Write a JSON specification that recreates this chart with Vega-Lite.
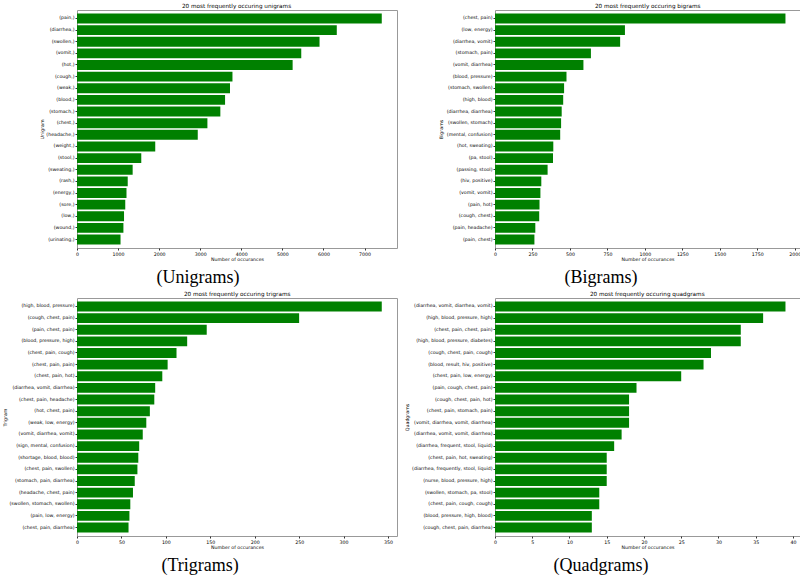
{
  "$schema": "https://vega.github.io/schema/vega-lite/v6.json",
  "padding": {"left": 1, "top": 2, "right": 0, "bottom": 0},
  "background": "white",
  "datasets": {
    "unigrams": [
      {"ngram": "(pain,)", "count": 7420, "rank": 1},
      {"ngram": "(diarrhea,)", "count": 6325, "rank": 2},
      {"ngram": "(swollen,)", "count": 5905, "rank": 3},
      {"ngram": "(vomit,)", "count": 5460, "rank": 4},
      {"ngram": "(hot,)", "count": 5250, "rank": 5},
      {"ngram": "(cough,)", "count": 3785, "rank": 6},
      {"ngram": "(weak,)", "count": 3725, "rank": 7},
      {"ngram": "(blood,)", "count": 3605, "rank": 8},
      {"ngram": "(stomach,)", "count": 3490, "rank": 9},
      {"ngram": "(chest,)", "count": 3175, "rank": 10},
      {"ngram": "(headache,)", "count": 2940, "rank": 11},
      {"ngram": "(weight,)", "count": 1905, "rank": 12},
      {"ngram": "(stool,)", "count": 1565, "rank": 13},
      {"ngram": "(sweating,)", "count": 1355, "rank": 14},
      {"ngram": "(rash,)", "count": 1235, "rank": 15},
      {"ngram": "(energy,)", "count": 1205, "rank": 16},
      {"ngram": "(sore,)", "count": 1175, "rank": 17},
      {"ngram": "(low,)", "count": 1145, "rank": 18},
      {"ngram": "(wound,)", "count": 1130, "rank": 19},
      {"ngram": "(urinating,)", "count": 1060, "rank": 20}
    ],
    "bigrams": [
      {"ngram": "(chest, pain)", "count": 1938, "rank": 1},
      {"ngram": "(low, energy)", "count": 867, "rank": 2},
      {"ngram": "(diarrhea, vomit)", "count": 835, "rank": 3},
      {"ngram": "(stomach, pain)", "count": 640, "rank": 4},
      {"ngram": "(vomit, diarrhea)", "count": 590, "rank": 5},
      {"ngram": "(blood, pressure)", "count": 477, "rank": 6},
      {"ngram": "(stomach, swollen)", "count": 461, "rank": 7},
      {"ngram": "(high, blood)", "count": 455, "rank": 8},
      {"ngram": "(diarrhea, diarrhea)", "count": 445, "rank": 9},
      {"ngram": "(swollen, stomach)", "count": 441, "rank": 10},
      {"ngram": "(mental, confusion)", "count": 435, "rank": 11},
      {"ngram": "(hot, sweating)", "count": 389, "rank": 12},
      {"ngram": "(pa, stool)", "count": 387, "rank": 13},
      {"ngram": "(passing, stool)", "count": 351, "rank": 14},
      {"ngram": "(hiv, positive)", "count": 309, "rank": 15},
      {"ngram": "(vomit, vomit)", "count": 303, "rank": 16},
      {"ngram": "(pain, hot)", "count": 297, "rank": 17},
      {"ngram": "(cough, chest)", "count": 295, "rank": 18},
      {"ngram": "(pain, headache)", "count": 269, "rank": 19},
      {"ngram": "(pain, chest)", "count": 263, "rank": 20}
    ],
    "trigrams": [
      {"ngram": "(high, blood, pressure)", "count": 343, "rank": 1},
      {"ngram": "(cough, chest, pain)", "count": 250, "rank": 2},
      {"ngram": "(pain, chest, pain)", "count": 146, "rank": 3},
      {"ngram": "(blood, pressure, high)", "count": 124, "rank": 4},
      {"ngram": "(chest, pain, cough)", "count": 112, "rank": 5},
      {"ngram": "(chest, pain, pain)", "count": 102, "rank": 6},
      {"ngram": "(chest, pain, hot)", "count": 96, "rank": 7},
      {"ngram": "(diarrhea, vomit, diarrhea)", "count": 88, "rank": 8},
      {"ngram": "(chest, pain, headache)", "count": 87, "rank": 9},
      {"ngram": "(hot, chest, pain)", "count": 82, "rank": 10},
      {"ngram": "(weak, low, energy)", "count": 78, "rank": 11},
      {"ngram": "(vomit, diarrhea, vomit)", "count": 74, "rank": 12},
      {"ngram": "(sign, mental, confusion)", "count": 70, "rank": 13},
      {"ngram": "(shortage, blood, blood)", "count": 69, "rank": 14},
      {"ngram": "(chest, pain, swollen)", "count": 68, "rank": 15},
      {"ngram": "(stomach, pain, diarrhea)", "count": 65, "rank": 16},
      {"ngram": "(headache, chest, pain)", "count": 63, "rank": 17},
      {"ngram": "(swollen, stomach, swollen)", "count": 60, "rank": 18},
      {"ngram": "(pain, low, energy)", "count": 59, "rank": 19},
      {"ngram": "(chest, pain, diarrhea)", "count": 58, "rank": 20}
    ],
    "quadgrams": [
      {"ngram": "(diarrhea, vomit, diarrhea, vomit)", "count": 39, "rank": 1},
      {"ngram": "(high, blood, pressure, high)", "count": 36, "rank": 2},
      {"ngram": "(chest, pain, chest, pain)", "count": 33, "rank": 3},
      {"ngram": "(high, blood, pressure, diabetes)", "count": 33, "rank": 4},
      {"ngram": "(cough, chest, pain, cough)", "count": 29, "rank": 5},
      {"ngram": "(blood, result, hiv, positive)", "count": 28, "rank": 6},
      {"ngram": "(chest, pain, low, energy)", "count": 25, "rank": 7},
      {"ngram": "(pain, cough, chest, pain)", "count": 19, "rank": 8},
      {"ngram": "(cough, chest, pain, hot)", "count": 18, "rank": 9},
      {"ngram": "(chest, pain, stomach, pain)", "count": 18, "rank": 10},
      {"ngram": "(vomit, diarrhea, vomit, diarrhea)", "count": 18, "rank": 11},
      {"ngram": "(diarrhea, vomit, vomit, diarrhea)", "count": 17, "rank": 12},
      {"ngram": "(diarrhea, frequent, stool, liquid)", "count": 16, "rank": 13},
      {"ngram": "(chest, pain, hot, sweating)", "count": 15, "rank": 14},
      {"ngram": "(diarrhea, frequently, stool, liquid)", "count": 15, "rank": 15},
      {"ngram": "(nurse, blood, pressure, high)", "count": 15, "rank": 16},
      {"ngram": "(swollen, stomach, pa, stool)", "count": 14, "rank": 17},
      {"ngram": "(chest, pain, cough, cough)", "count": 14, "rank": 18},
      {"ngram": "(blood, pressure, high, blood)", "count": 13, "rank": 19},
      {"ngram": "(cough, chest, pain, diarrhea)", "count": 13, "rank": 20}
    ]
  },
  "spacing": 5,
  "hconcat": [
    {
      "align": "none",
      "spacing": 3,
      "vconcat": [
        {
          "title": {"text": "(Unigrams)", "orient": "bottom", "anchor": "start", "frame": "bounds", "dx": 118, "font": "Liberation Serif", "fontSize": 18, "fontWeight": "normal", "offset": 7},
          "vconcat": [
            {
              "width": 320, "height": 238,
              "data": {"name": "unigrams"},
              "title": {"text": "20 most frequently occuring unigrams", "anchor": "start", "frame": "group", "dx": 105},
              "mark": {"type": "bar", "color": "#008000"},
              "encoding": {
                "y": {"field": "ngram", "type": "nominal", "sort": {"field": "rank", "op": "min", "order": "ascending"},
                      "scale": {"paddingInner": 0.15, "paddingOuter": 0.3},
                      "axis": {"title": "Unigram", "minExtent": 30, "maxExtent": 30}},
                "x": {"field": "count", "type": "quantitative", "scale": {"domain": [0, 7791], "nice": false},
                      "axis": {"title": "Number of occurances", "format": "d", "values": [0, 1000, 2000, 3000, 4000, 5000, 6000, 7000]}}
              }
            }
          ]
        },
        {
          "title": {"text": "(Trigrams)", "orient": "bottom", "anchor": "start", "frame": "bounds", "dx": 160, "font": "Liberation Serif", "fontSize": 18, "fontWeight": "normal", "offset": 7},
          "vconcat": [
            {
              "width": 320, "height": 238,
              "data": {"name": "trigrams"},
              "title": {"text": "20 most frequently occuring trigrams", "anchor": "start", "frame": "group", "dx": 107},
              "mark": {"type": "bar", "color": "#008000"},
              "encoding": {
                "y": {"field": "ngram", "type": "nominal", "sort": {"field": "rank", "op": "min", "order": "ascending"},
                      "scale": {"paddingInner": 0.15, "paddingOuter": 0.3},
                      "axis": {"title": "Trigram", "minExtent": 67, "maxExtent": 67}},
                "x": {"field": "count", "type": "quantitative", "scale": {"domain": [0, 360.15], "nice": false},
                      "axis": {"title": "Number of occurances", "format": "d", "values": [0, 50, 100, 150, 200, 250, 300, 350]}}
              }
            }
          ]
        }
      ]
    },
    {
      "align": "none",
      "spacing": 3,
      "vconcat": [
        {
          "title": {"text": "(Bigrams)", "orient": "bottom", "anchor": "start", "frame": "bounds", "dx": 127, "font": "Liberation Serif", "fontSize": 18, "fontWeight": "normal", "offset": 7},
          "vconcat": [
            {
              "width": 305, "height": 238,
              "data": {"name": "bigrams"},
              "title": {"text": "20 most frequently occuring bigrams", "anchor": "start", "frame": "group", "dx": 100},
              "mark": {"type": "bar", "color": "#008000"},
              "encoding": {
                "y": {"field": "ngram", "type": "nominal", "sort": {"field": "rank", "op": "min", "order": "ascending"},
                      "scale": {"paddingInner": 0.15, "paddingOuter": 0.3},
                      "axis": {"title": "Bigrams", "minExtent": 49, "maxExtent": 49}},
                "x": {"field": "count", "type": "quantitative", "scale": {"domain": [0, 2035], "nice": false},
                      "axis": {"title": "Number of occurances", "format": "d", "values": [0, 250, 500, 750, 1000, 1250, 1500, 1750, 2000]}}
              }
            }
          ]
        },
        {
          "title": {"text": "(Quadgrams)", "orient": "bottom", "anchor": "start", "frame": "bounds", "dx": 150, "font": "Liberation Serif", "fontSize": 18, "fontWeight": "normal", "offset": 7},
          "vconcat": [
            {
              "width": 305, "height": 238,
              "data": {"name": "quadgrams"},
              "title": {"text": "20 most frequently occuring quadgrams", "anchor": "start", "frame": "group", "dx": 95},
              "mark": {"type": "bar", "color": "#008000"},
              "encoding": {
                "y": {"field": "ngram", "type": "nominal", "sort": {"field": "rank", "op": "min", "order": "ascending"},
                      "scale": {"paddingInner": 0.15, "paddingOuter": 0.3},
                      "axis": {"title": "Quadgrams", "minExtent": 83, "maxExtent": 83}},
                "x": {"field": "count", "type": "quantitative", "scale": {"domain": [0, 40.95], "nice": false},
                      "axis": {"title": "Number of occurances", "format": "d", "values": [0, 5, 10, 15, 20, 25, 30, 35, 40]}}
              }
            }
          ]
        }
      ]
    }
  ],
  "config": {
    "view": {"stroke": "#999999", "strokeWidth": 1},
    "font": "DejaVu Sans",
    "axis": {
      "labelFont": "DejaVu Sans", "labelFontSize": 4.7, "labelColor": "#000000",
      "titleFont": "DejaVu Sans", "titleFontSize": 4.7, "titleFontWeight": "normal", "titleColor": "#000000",
      "tickSize": 2, "tickColor": "#333333", "domain": false, "grid": false, "labelPadding": 1,
      "labelFlush": false, "labelOverlap": false, "labelLimit": 300
    },
    "axisX": {"titlePadding": 1},
    "axisY": {"titlePadding": 3},
    "title": {"font": "DejaVu Sans", "fontSize": 5.7, "fontWeight": "normal", "color": "#000000", "offset": 1.5}
  }
}
